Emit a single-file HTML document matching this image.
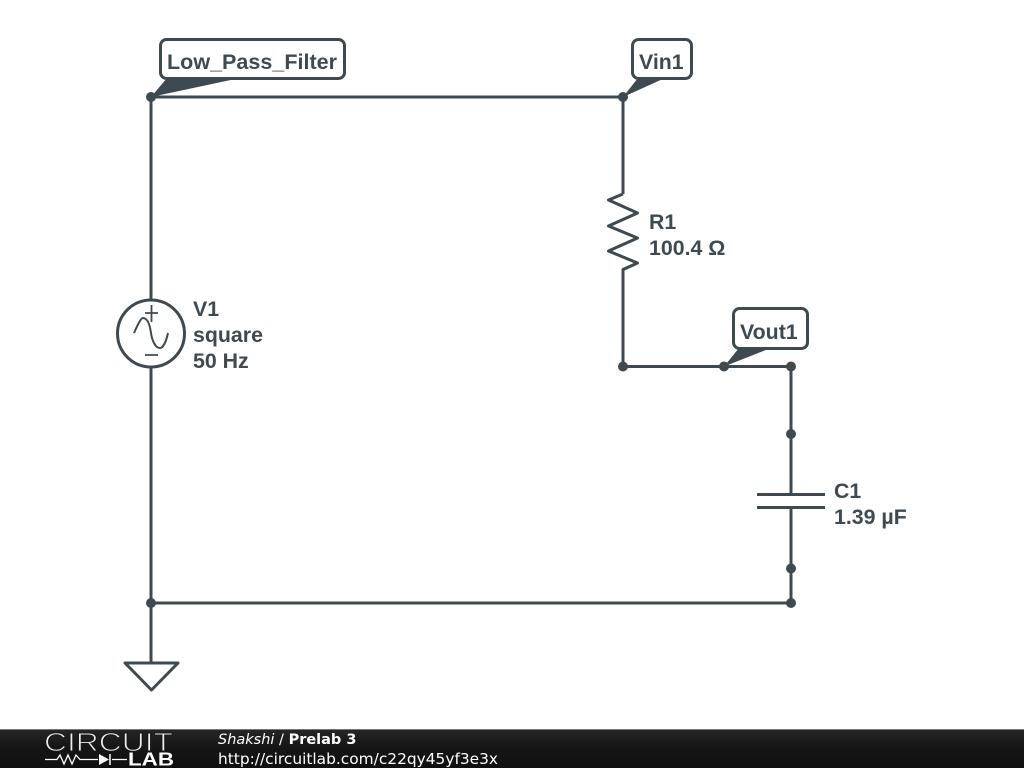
<!DOCTYPE html>
<html>
<head>
<meta charset="utf-8">
<style>
html,body{margin:0;padding:0;background:#fff;width:1024px;height:768px;overflow:hidden}
svg{display:block}
.l{font-family:"Liberation Sans",sans-serif;font-weight:bold;font-size:21.33px;fill:#3f4a50}
.f{font-family:"DejaVu Sans",sans-serif;fill:#fff}
</style>
</head>
<body>
<svg width="1024" height="768" viewBox="0 0 1024 768" xmlns="http://www.w3.org/2000/svg">
<defs>
<linearGradient id="g" x1="0" y1="0" x2="0" y2="1">
<stop offset="0" stop-color="#262626"/><stop offset="0.5" stop-color="#151515"/><stop offset="1" stop-color="#101010"/>
</linearGradient>
</defs>
<rect width="1024" height="768" fill="#fff"/>
<g fill="none" stroke="#3f4a50" stroke-width="3">
<path d="M151 97H623V194"/>
<path d="M623 194 L608.500 200 L637.500 213 L608.500 226 L637.500 238 L608.500 251 L637.500 263 L623 269.500 V366.500 H791 V494" stroke-linejoin="round"/>
<path d="M151 97V300M151 367V663"/>
<path d="M151 603H791V508"/>
<path d="M757 494.500H825M757 507.500H825"/>
<circle cx="151" cy="333.500" r="33.500"/>
<path d="M125 663H178L151.500 690Z" stroke-linejoin="round"/>
</g>
<g fill="none" stroke="#3f4a50" stroke-width="2">
<path d="M134 333C138 324 141 318 143 318C148 318 150 326 151 333C152 340 155 348 160 348C163 348 166 342 168 333"/>
<path d="M145 313H158M151.500 305V322M145 355H158" stroke-width="1.800"/>
</g>
<g fill="#fff" stroke="#3f4a50" stroke-width="3">
<rect x="160.500" y="39.500" width="184" height="39" rx="6"/>
<rect x="632.500" y="39.500" width="59" height="39" rx="6"/>
<rect x="733.500" y="308.500" width="74" height="40" rx="6"/>
</g>
<g fill="#3f4a50">
<circle cx="151" cy="97" r="5"/>
<circle cx="623" cy="97" r="5"/>
<circle cx="623" cy="366.500" r="5"/>
<circle cx="724" cy="366.500" r="5"/>
<circle cx="791" cy="366.500" r="5"/>
<circle cx="791" cy="434" r="5"/>
<circle cx="791" cy="568.500" r="5"/>
<circle cx="791" cy="603" r="5"/>
<circle cx="151" cy="603" r="5"/>
<path d="M151 97L167 78H240Z"/>
<path d="M623 97L638 78H665Z"/>
<path d="M724 366.500L739 348H771Z"/>
</g>
<g class="l">
<text class="l" x="167" y="69" textLength="170" lengthAdjust="spacingAndGlyphs">Low_Pass_Filter</text>
<text class="l" x="639" y="69">Vin1</text>
<text class="l" x="740" y="339">Vout1</text>
<text class="l" x="649" y="229">R1</text>
<text class="l" x="649" y="255">100.4 Ω</text>
<text class="l" x="193" y="316">V1</text>
<text class="l" x="193" y="342">square</text>
<text class="l" x="193" y="368">50 Hz</text>
<text class="l" x="834" y="498">C1</text>
<text class="l" x="834" y="524">1.39 µF</text>
</g>
<rect x="0" y="729" width="1024" height="39" fill="url(#g)"/>
<rect x="0" y="729" width="1024" height="1" fill="#777"/>
<text x="44" y="751" font-family="'Liberation Sans',sans-serif" font-size="26" fill="#f0f0f0" stroke="#181818" stroke-width="1" textLength="129" lengthAdjust="spacingAndGlyphs">CIRCUIT</text>
<text x="128" y="765.500" font-family="'Liberation Sans',sans-serif" font-weight="bold" font-size="18" fill="#fff" textLength="46" lengthAdjust="spacingAndGlyphs">LAB</text>
<path d="M45 759.500H57L60 755L64 764L68 755L72 764L76 755L80 759.500H98M112 759.500H127" fill="none" stroke="#fff" stroke-width="1.300"/>
<path d="M99 754L109 759.500L99 765Z" fill="#fff"/>
<path d="M110 754V765" stroke="#fff" stroke-width="1.500"/>
<text class="f" font-size="14.5" x="218" y="744"><tspan font-style="italic">Shakshi</tspan> / <tspan font-weight="bold">Prelab 3</tspan></text>
<text class="f" font-size="15.4" x="218" y="764">http://circuitlab.com/c22qy45yf3e3x</text>
</svg>
</body>
</html>
